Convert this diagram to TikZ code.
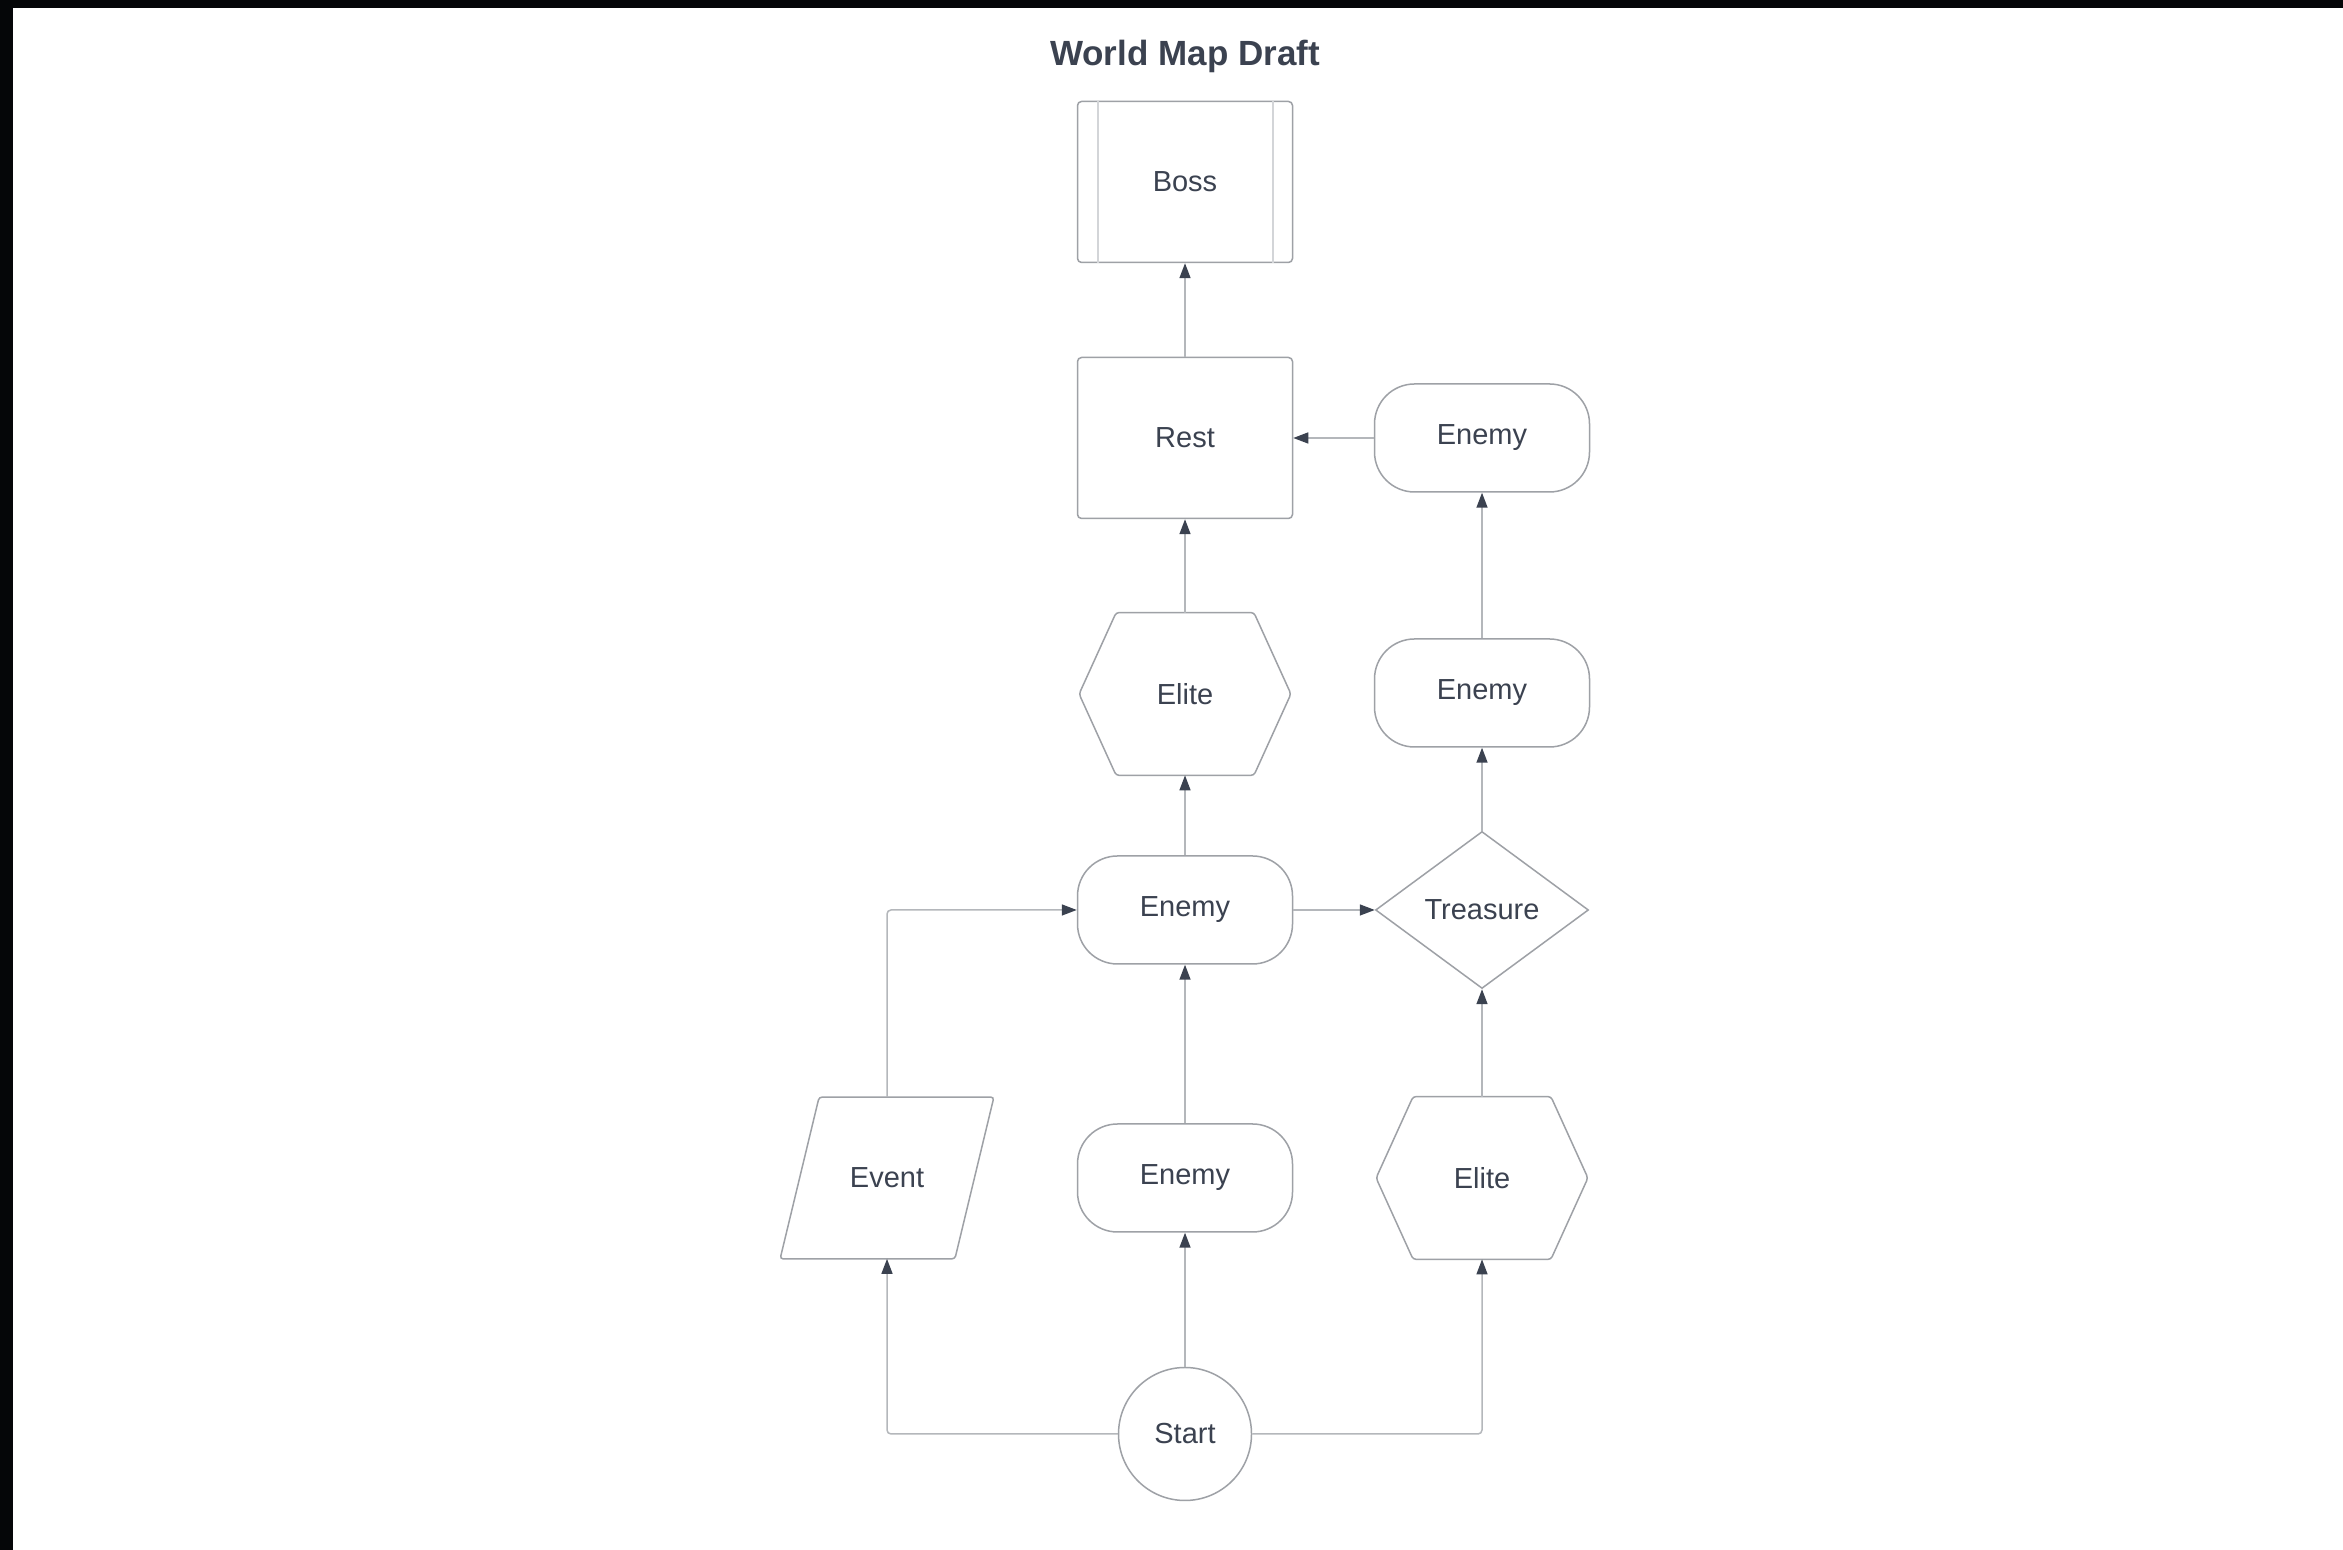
\documentclass[tikz,border=0pt]{standalone}
\usepackage{fontspec}
\setmainfont{Liberation Sans}
\usepackage{tikz}
\usetikzlibrary{arrows.meta,shapes.geometric}
\definecolor{inkgray}{HTML}{3B4250}
\definecolor{edgegray}{HTML}{9EA1A6}
\definecolor{wiregray}{HTML}{B4B7BB}
\definecolor{bargray}{HTML}{D3D5D8}
\definecolor{framebk}{HTML}{050608}

\begin{document}
\begin{tikzpicture}[x=0.5pt,y=0.5pt,yscale=1,xscale=1,
  every node/.style={text=inkgray,font=\fontsize{14.5}{17}\selectfont},
  shapeline/.style={draw=edgegray,line width=0.75pt},
  enemybox/.style={shapeline,rectangle,rounded corners=20pt,minimum width=107.5pt,minimum height=54pt},
  roombox/.style={shapeline,rectangle,rounded corners=2pt,minimum width=107.5pt,minimum height=80.5pt},
  elitebox/.style={rectangle,minimum width=105.5pt,minimum height=81pt,inner sep=0pt},
  eventbox/.style={rectangle,minimum width=106.5pt,minimum height=80.5pt,inner sep=0pt},
  chestbox/.style={shapeline,diamond,minimum width=106.5pt,minimum height=78.5pt,inner sep=0pt},
  startbox/.style={shapeline,circle,minimum size=66.5pt,inner sep=0pt},
  link/.style={draw=wiregray,line width=0.75pt,rounded corners=2pt,-{Triangle[length=7.5pt,width=5.5pt,color=inkgray]}},
]
\useasboundingbox (0,0) rectangle (2343,1550);
\fill[white] (0,0) rectangle (2343,1550);
\fill[framebk] (0,1542) rectangle (2343,1550);
\fill[framebk] (0,0) rectangle (13,1550);

%Title
\node[font=\bfseries\fontsize{17.5}{21}\selectfont] (title) at (1185,1494) {World Map Draft};

%Rooms
\node[roombox] (boss) at (1185,1368) {Boss};
\draw[draw=bargray,line width=1pt] ([xshift=10.5pt]boss.north west) -- ([xshift=10.5pt]boss.south west);
\draw[draw=bargray,line width=1pt] ([xshift=-10pt]boss.north east) -- ([xshift=-10pt]boss.south east);
\node[roombox] (rest) at (1185,1112) {Rest};
\node[enemybox] (enemyA) at (1482,1112) {Enemy};

\node[elitebox] (eliteA) at (1185,856) {Elite};
\draw[shapeline,rounded corners=1.5pt] ([xshift=18.5pt]eliteA.north west) -- ([xshift=-18.5pt]eliteA.north east) -- (eliteA.east) -- ([xshift=-18.5pt]eliteA.south east) -- ([xshift=18.5pt]eliteA.south west) -- (eliteA.west) -- cycle;
\node[enemybox] (enemyB) at (1482,857) {Enemy};

\node[enemybox] (enemyC) at (1185,640) {Enemy};
\node[chestbox] (treasure) at (1482,640) {Treasure};

\node[eventbox] (event) at (887,372) {Event};
\draw[shapeline,rounded corners=1.5pt] ([xshift=19.5pt]event.north west) -- (event.north east) -- ([xshift=-19.5pt]event.south east) -- (event.south west) -- cycle;
\node[enemybox] (enemyD) at (1185,372) {Enemy};
\node[elitebox] (eliteB) at (1482,372) {Elite};
\draw[shapeline,rounded corners=1.5pt] ([xshift=18.5pt]eliteB.north west) -- ([xshift=-18.5pt]eliteB.north east) -- (eliteB.east) -- ([xshift=-18.5pt]eliteB.south east) -- ([xshift=18.5pt]eliteB.south west) -- (eliteB.west) -- cycle;

\node[startbox] (start) at (1185,116) {Start};

%Paths
\draw[link] (start.west) -| (event.south);
\draw[link] (start.north) -- (enemyD.south);
\draw[link] (start.east) -| (eliteB.south);
\draw[link] (event.north) |- (enemyC.west);
\draw[link] (enemyD.north) -- (enemyC.south);
\draw[link] (eliteB.north) -- (treasure.south);
\draw[link] (enemyC.east) -- (treasure.west);
\draw[link] (enemyC.north) -- (eliteA.south);
\draw[link] (treasure.north) -- (enemyB.south);
\draw[link] (eliteA.north) -- (rest.south);
\draw[link] (enemyB.north) -- (enemyA.south);
\draw[link] (enemyA.west) -- (rest.east);
\draw[link] (rest.north) -- (boss.south);
\end{tikzpicture}
\end{document}
